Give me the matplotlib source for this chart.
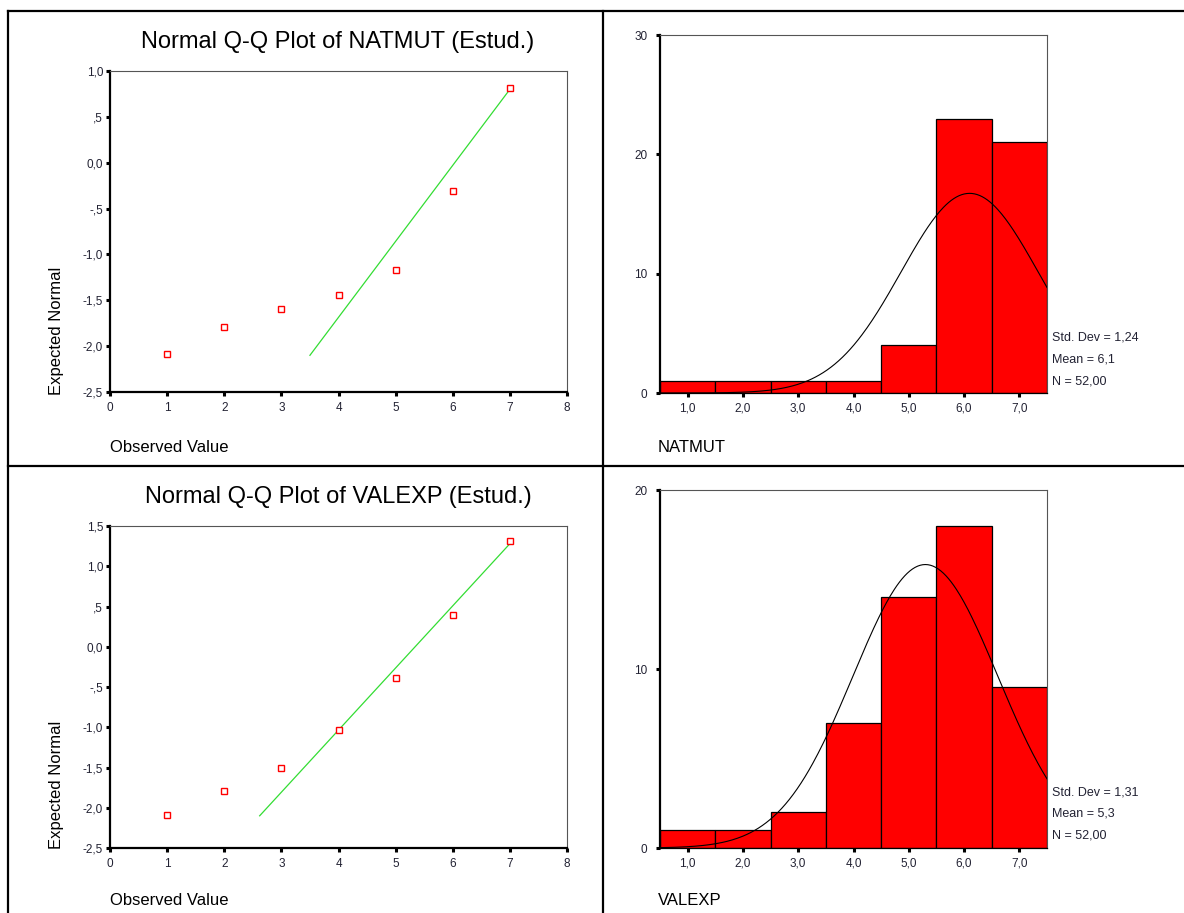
import numpy as np
import matplotlib
matplotlib.use("Agg")
import matplotlib.pyplot as plt
from matplotlib.lines import Line2D
from matplotlib.ticker import FuncFormatter

plt.rcParams['font.family'] = ['Liberation Sans', 'DejaVu Sans']

W, H = 1184, 913

# Q-Q data: observed value vs expected normal
qq_x = [1, 2, 3, 4, 5, 6, 7]
natmut_expected = [-2.09, -1.79, -1.60, -1.44, -1.17, -0.31, 0.82]
valexp_expected = [-2.09, -1.79, -1.51, -1.03, -0.39, 0.39, 1.31]
natmut_line_x = [3.5, 7.0]
natmut_line_y = [-2.10, 0.80]
valexp_line_x = [2.62, 7.0]
valexp_line_y = [-2.10, 1.28]

# histogram data (bins centred on 1..7, width 1)
bin_centers = [1, 2, 3, 4, 5, 6, 7]
natmut_counts = [1, 1, 1, 1, 4, 23, 21]
valexp_counts = [1, 1, 2, 7, 14, 18, 9]
natmut_stats = dict(sd=1.24, mean=6.1, n=52)
valexp_stats = dict(sd=1.31, mean=5.3, n=52)


def box(l, t, r, b):
    return [l / W, 1 - b / H, (r - l) / W, (b - t) / H]


def fx(x):
    return x / W


def fy(y):
    return 1 - y / H


def spss_num(v, pos=None):
    if v == 0:
        return "0,0"
    s = f"{v:.1f}".replace('.', ',')
    if abs(v) < 1:
        s = s.replace('0,', ',')
    return s


def style_axes(ax):
    for side in ['top', 'right']:
        ax.spines[side].set_color('#555555')
        ax.spines[side].set_linewidth(0.8)
    for side in ['left', 'bottom']:
        ax.spines[side].set_color('black')
        ax.spines[side].set_linewidth(1.6)
    ax.tick_params(direction='out', length=3, width=2.2, labelsize=8.5,
                   colors='black', labelcolor='#222233')
    ax.tick_params(axis='x', pad=4)
    ax.tick_params(axis='y', pad=2)


def qq_panel(ax, expected, line_x, line_y, yticks, title, title_y):
    ax.plot(line_x, line_y, color='#33dd33', lw=0.9)
    ax.plot(qq_x, expected, ls='none', marker='s', ms=5, mfc='white',
            mec='red', mew=1)
    ax.set_xlim(0, 8)
    ax.set_ylim(yticks[0], yticks[-1])
    ax.set_xticks(range(0, 9))
    ax.set_yticks(yticks)
    ax.yaxis.set_major_formatter(FuncFormatter(spss_num))
    style_axes(ax)
    fig.text(fx(338), fy(title_y), title, ha='center', va='center',
             fontsize=17)


def hist_panel(ax, counts, stats, ymax, yticks):
    ax.bar(bin_centers, counts, width=1.0, color='#ff0000',
           edgecolor='black', linewidth=0.9, zorder=2)
    xs = np.linspace(0.5, 7.5, 300)
    pdf = stats['n'] / (stats['sd'] * np.sqrt(2 * np.pi)) * \
        np.exp(-0.5 * ((xs - stats['mean']) / stats['sd']) ** 2)
    ax.plot(xs, pdf, color='black', lw=0.8, zorder=3)
    ax.set_xlim(0.5, 7.5)
    ax.set_ylim(0, ymax)
    ax.set_xticks(bin_centers)
    ax.set_xticklabels([f"{c:.1f}".replace('.', ',') for c in bin_centers])
    ax.set_yticks(yticks)
    style_axes(ax)
    ax.spines['bottom'].set_linewidth(0.9)
    ax.tick_params(axis='y', pad=6)


fig = plt.figure(figsize=(W / 100, H / 100), dpi=100)

# panel grid lines
for x in [8, 603]:
    fig.add_artist(Line2D([fx(x), fx(x)], [0, fy(11)], color='black', lw=1.6))
for y in [11, 466]:
    fig.add_artist(Line2D([fx(8), 1], [fy(y), fy(y)], color='black', lw=1.6))

# top-left: Q-Q NATMUT
ax1 = fig.add_axes(box(110, 71, 567, 392))
qq_panel(ax1, natmut_expected, natmut_line_x, natmut_line_y,
         [-2.5, -2.0, -1.5, -1.0, -0.5, 0.0, 0.5, 1.0],
         "Normal Q-Q Plot of NATMUT (Estud.)", 42)
fig.text(fx(57), fy(395), "Expected Normal", rotation=90, ha='center',
         va='bottom', fontsize=12)
fig.text(fx(110), fy(447), "Observed Value", ha='left', va='center',
         fontsize=12)

# bottom-left: Q-Q VALEXP
ax3 = fig.add_axes(box(110, 526, 567, 848))
qq_panel(ax3, valexp_expected, valexp_line_x, valexp_line_y,
         [-2.5, -2.0, -1.5, -1.0, -0.5, 0.0, 0.5, 1.0, 1.5],
         "Normal Q-Q Plot of VALEXP (Estud.)", 497)
fig.text(fx(57), fy(849), "Expected Normal", rotation=90, ha='center',
         va='bottom', fontsize=12)
fig.text(fx(110), fy(900), "Observed Value", ha='left', va='center',
         fontsize=12)

# top-right: histogram NATMUT
ax2 = fig.add_axes(box(660, 35, 1047, 393))
hist_panel(ax2, natmut_counts, natmut_stats, 30, [0, 10, 20, 30])
fig.text(fx(658), fy(447), "NATMUT", ha='left', va='center', fontsize=12)

# bottom-right: histogram VALEXP
ax4 = fig.add_axes(box(660, 490, 1047, 848))
hist_panel(ax4, valexp_counts, valexp_stats, 20, [0, 10, 20])
fig.text(fx(658), fy(900), "VALEXP", ha='left', va='center', fontsize=12)

for stats, ys in [(natmut_stats, (337, 359, 381)),
                  (valexp_stats, (792, 813, 835))]:
    lines = ["Std. Dev = " + f"{stats['sd']:.2f}".replace('.', ','),
             "Mean = " + f"{stats['mean']:.1f}".replace('.', ','),
             "N = " + f"{stats['n']:.2f}".replace('.', ',')]
    for txt, y in zip(lines, ys):
        fig.text(fx(1052), fy(y), txt, ha='left', va='center', fontsize=9,
                 color='#222233')

fig.savefig("out.png", dpi=100)
